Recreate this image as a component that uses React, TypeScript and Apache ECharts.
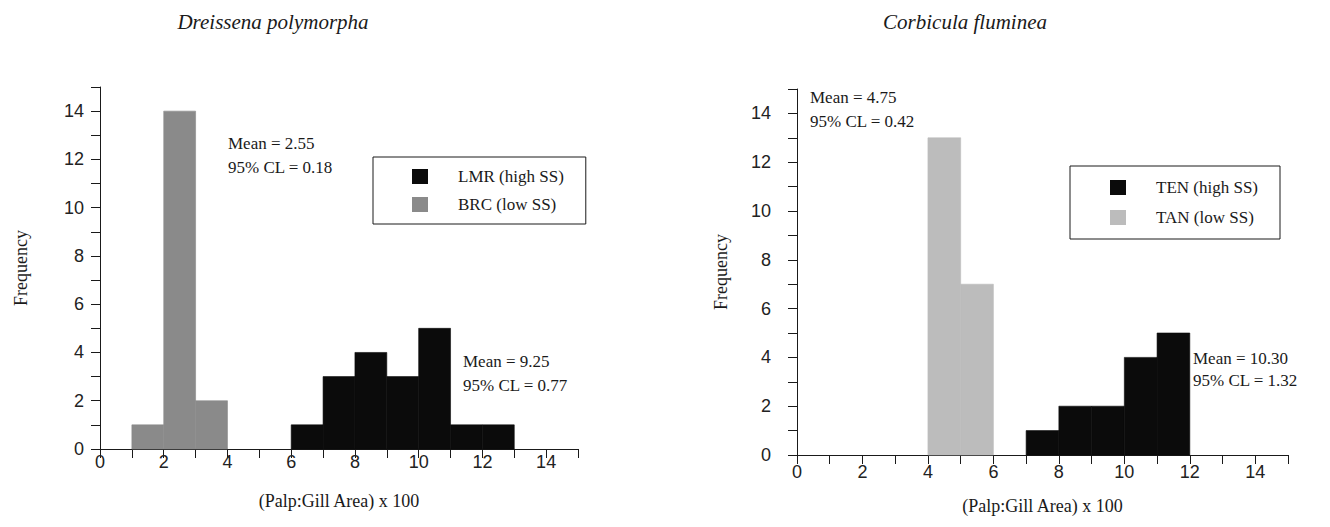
import React, { useEffect, useRef } from "react";
import * as echarts from "echarts";

// ---- data ----
const BIN_WIDTH = 1;
const lmrBins = [6, 7, 8, 9, 10, 11, 12];
const lmrCounts = [1, 3, 4, 3, 5, 1, 1];
const brcBins = [1, 2, 3];
const brcCounts = [1, 14, 2];
const tenBins = [7, 8, 9, 10, 11];
const tenCounts = [1, 2, 2, 4, 5];
const tanBins = [4, 5];
const tanCounts = [13, 7];

const leftTitle = "Dreissena polymorpha";
const rightTitle = "Corbicula fluminea";
const xName = "(Palp:Gill Area) x 100";
const yName = "Frequency";
const leftNames = ["LMR (high SS)", "BRC (low SS)"];
const rightNames = ["TEN (high SS)", "TAN (low SS)"];
const leftStats = [
  ["Mean = 2.55", "95% CL = 0.18"],
  ["Mean = 9.25", "95% CL = 0.77"],
];
const rightStats = [
  ["Mean = 4.75", "95% CL = 0.42"],
  ["Mean = 10.30", "95% CL = 1.32"],
];

const SERIF = "'Liberation Serif', 'DejaVu Serif', serif";
const SANS = "'Liberation Sans', Arial, sans-serif";
const INK = "#1a1a1a";

function pairs(bins: number[], counts: number[]) {
  return bins.map((b, i) => [b, counts[i]]);
}

function renderBin(params: any, api: any) {
  const x0 = api.value(0);
  const h = api.value(1);
  const p0 = api.coord([x0, 0]);
  const p1 = api.coord([x0 + BIN_WIDTH, h]);
  return {
    type: "rect",
    shape: { x: p0[0], y: p1[1], width: p1[0] - p0[0], height: p0[1] - p1[1] },
    style: api.style(),
  };
}

function axisPair(gridIndex: number, yGap: number, yMargin: number, xMargin: number, xGap: number) {
  const evenFmt = (v: number) => (v % 2 === 0 ? String(v) : "");
  return {
    x: {
      type: "value",
      gridIndex,
      min: 0,
      max: 15,
      interval: 1,
      name: xName,
      nameLocation: "middle",
      nameGap: xGap,
      nameTextStyle: { fontFamily: SERIF, fontSize: 18, color: INK },
      axisLine: { show: true, onZero: false, lineStyle: { color: INK, width: 1 } },
      axisTick: { show: true, length: 9, lineStyle: { color: INK } },
      axisLabel: { formatter: evenFmt, fontFamily: SANS, fontSize: 18, color: "#222", margin: xMargin },
      splitLine: { show: false },
    },
    y: {
      type: "value",
      gridIndex,
      min: 0,
      max: 15,
      interval: 1,
      name: yName,
      nameLocation: "middle",
      nameGap: yGap,
      nameRotate: 90,
      nameTextStyle: { fontFamily: SERIF, fontSize: 18, color: INK },
      axisLine: { show: true, lineStyle: { color: INK, width: 1 } },
      axisTick: { show: true, length: 9, lineStyle: { color: INK } },
      axisLabel: { formatter: evenFmt, fontFamily: SANS, fontSize: 18, color: "#222", margin: yMargin },
      splitLine: { show: false },
    },
  };
}

function statText(lines: string[], x: number, y: number, gap: number) {
  return lines.map((t, i) => ({
    type: "text",
    x,
    y: y + i * gap,
    style: { text: t, font: `17px ${SERIF}`, fill: INK, verticalAlign: "middle" },
  }));
}

function histSeries(name: string, idx: number, color: string, bins: number[], counts: number[]) {
  return {
    type: "custom",
    name,
    xAxisIndex: idx,
    yAxisIndex: idx,
    renderItem: renderBin,
    encode: { x: 0, y: 1 },
    itemStyle: { color, borderColor: color, borderWidth: 0.6 },
    data: pairs(bins, counts),
  };
}

export default function App() {
  const ref = useRef<HTMLDivElement>(null);
  useEffect(() => {
    if (!ref.current) return;
    const chart = echarts.init(ref.current, null, { renderer: "svg" });
    const a0 = axisPair(0, 70, 16, 4, 43);
    const a1 = axisPair(1, 67, 26, 8, 42);
    chart.setOption({
      animation: false,
      backgroundColor: "#ffffff",
      grid: [
        { left: 100, width: 478, top: 87, height: 362 },
        { left: 797, width: 491, top: 89, height: 366 },
      ],
      xAxis: [a0.x, a1.x],
      yAxis: [a0.y, a1.y],
      legend: [
        {
          data: leftNames,
          orient: "vertical",
          left: 373,
          top: 157,
          padding: [11, 22, 11, 39],
          itemGap: 11,
          itemWidth: 14,
          itemHeight: 13,
          icon: "rect",
          borderColor: INK,
          borderWidth: 1,
          textStyle: { fontFamily: SERIF, fontSize: 17, color: INK, padding: [0, 0, 0, 26] },
        },
        {
          data: rightNames,
          orient: "vertical",
          left: 1070,
          top: 166,
          padding: [13, 22, 13, 40],
          itemGap: 13,
          itemWidth: 14,
          itemHeight: 13,
          icon: "rect",
          borderColor: INK,
          borderWidth: 1,
          textStyle: { fontFamily: SERIF, fontSize: 17, color: INK, padding: [0, 0, 0, 26] },
        },
      ],
      series: [
        histSeries(leftNames[0], 0, "#0b0b0b", lmrBins, lmrCounts),
        histSeries(leftNames[1], 0, "#8a8a8a", brcBins, brcCounts),
        histSeries(rightNames[0], 1, "#0b0b0b", tenBins, tenCounts),
        histSeries(rightNames[1], 1, "#bcbcbc", tanBins, tanCounts),
      ],
      graphic: [
        {
          type: "text",
          x: 273,
          y: 22,
          style: { text: leftTitle, font: `italic 21px ${SERIF}`, fill: INK, align: "center", verticalAlign: "middle" },
        },
        {
          type: "text",
          x: 965,
          y: 22,
          style: { text: rightTitle, font: `italic 21px ${SERIF}`, fill: INK, align: "center", verticalAlign: "middle" },
        },
        ...statText(leftStats[0], 228, 143, 24),
        ...statText(leftStats[1], 463, 361, 24),
        ...statText(rightStats[0], 810, 97, 24),
        ...statText(rightStats[1], 1193, 358, 22),
      ],
    });
    return () => chart.dispose();
  }, []);
  return <div ref={ref} style={{ position: "fixed", left: 0, top: 0, width: 1330, height: 527 }} />;
}
